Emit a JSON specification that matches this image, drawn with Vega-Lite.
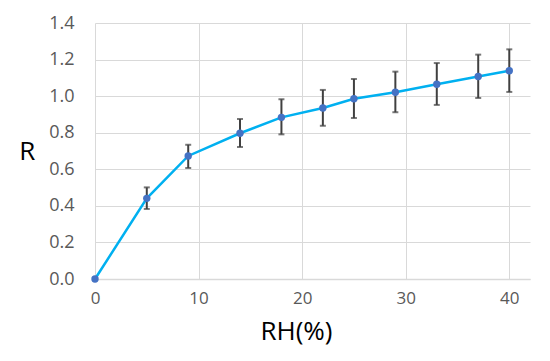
{
  "$schema": "https://vega.github.io/schema/vega-lite/v6.json",
  "width": 435,
  "height": 256,
  "autosize": {"type": "none"},
  "padding": {"left": 95, "top": 23, "right": 20, "bottom": 82},
  "background": "white",
  "config": {
    "view": {"stroke": null},
    "font": "Open Sans",
    "axisY": {
      "values": [0, 0.2, 0.4, 0.6, 0.8, 1.0, 1.2, 1.4],
      "format": ".1f", "labelOverlap": false,
      "grid": true, "gridColor": "#d9d9d9", "gridWidth": 1,
      "domain": false, "ticks": false, "labelPadding": 21,
      "labelFontSize": 18, "labelColor": "#595959", "labelFont": "Open Sans",
      "titleFontSize": 26, "titleFontWeight": "normal", "titleColor": "#000000",
      "titleFont": "Open Sans", "titleAngle": 0, "titlePadding": 22,
      "titleBaseline": "middle", "labelFlush": false
    }
  },
  "data": {
    "values": [
      {"RH": 0, "R": 0, "lo": null, "hi": null},
      {"RH": 5, "R": 0.441, "lo": 0.383, "hi": 0.501},
      {"RH": 9, "R": 0.673, "lo": 0.607, "hi": 0.734},
      {"RH": 14, "R": 0.797, "lo": 0.722, "hi": 0.875},
      {"RH": 18, "R": 0.884, "lo": 0.791, "hi": 0.983},
      {"RH": 22, "R": 0.935, "lo": 0.838, "hi": 1.034},
      {"RH": 25, "R": 0.986, "lo": 0.880, "hi": 1.094},
      {"RH": 29, "R": 1.021, "lo": 0.912, "hi": 1.134},
      {"RH": 33, "R": 1.065, "lo": 0.952, "hi": 1.181},
      {"RH": 37, "R": 1.107, "lo": 0.990, "hi": 1.227},
      {"RH": 40, "R": 1.139, "lo": 1.023, "hi": 1.256}
    ]
  },
  "encoding": {
    "x": {
      "field": "RH", "type": "quantitative",
      "scale": {"domain": [0, 42], "nice": false, "zero": true},
      "axis": {
        "title": "RH(%)", "values": [0, 10, 20, 30, 40],
        "grid": true, "gridColor": "#d9d9d9", "gridWidth": 1,
        "domain": true, "domainColor": "#d9d9d9", "domainWidth": 1.5,
        "ticks": false, "labelPadding": 11,
        "labelFontSize": 17, "labelColor": "#595959", "labelFont": "Open Sans",
        "titleFontSize": 26, "titleFontWeight": "normal", "titleColor": "#000000",
        "titleFont": "Open Sans", "titlePadding": 12, "titleX": 201,
        "labelFlush": false
      }
    }
  },
  "layer": [
    {
      "mark": {"type": "line", "color": "#00b0f0", "strokeWidth": 2.5},
      "encoding": {
        "y": {
          "field": "R", "type": "quantitative", "title": "R",
          "scale": {"domain": [0, 1.4], "nice": false}
        }
      }
    },
    {
      "transform": [{"filter": "datum.lo != null"}],
      "mark": {
        "type": "errorbar",
        "ticks": {"size": 6, "thickness": 2, "color": "#404040"},
        "rule": {"strokeWidth": 2, "color": "#404040"}
      },
      "encoding": {
        "y": {"field": "lo", "type": "quantitative", "title": "R"},
        "y2": {"field": "hi"}
      }
    },
    {
      "mark": {"type": "point", "filled": true, "color": "#4472c4", "size": 55, "opacity": 1},
      "encoding": {
        "y": {"field": "R", "type": "quantitative", "title": "R"}
      }
    }
  ]
}
